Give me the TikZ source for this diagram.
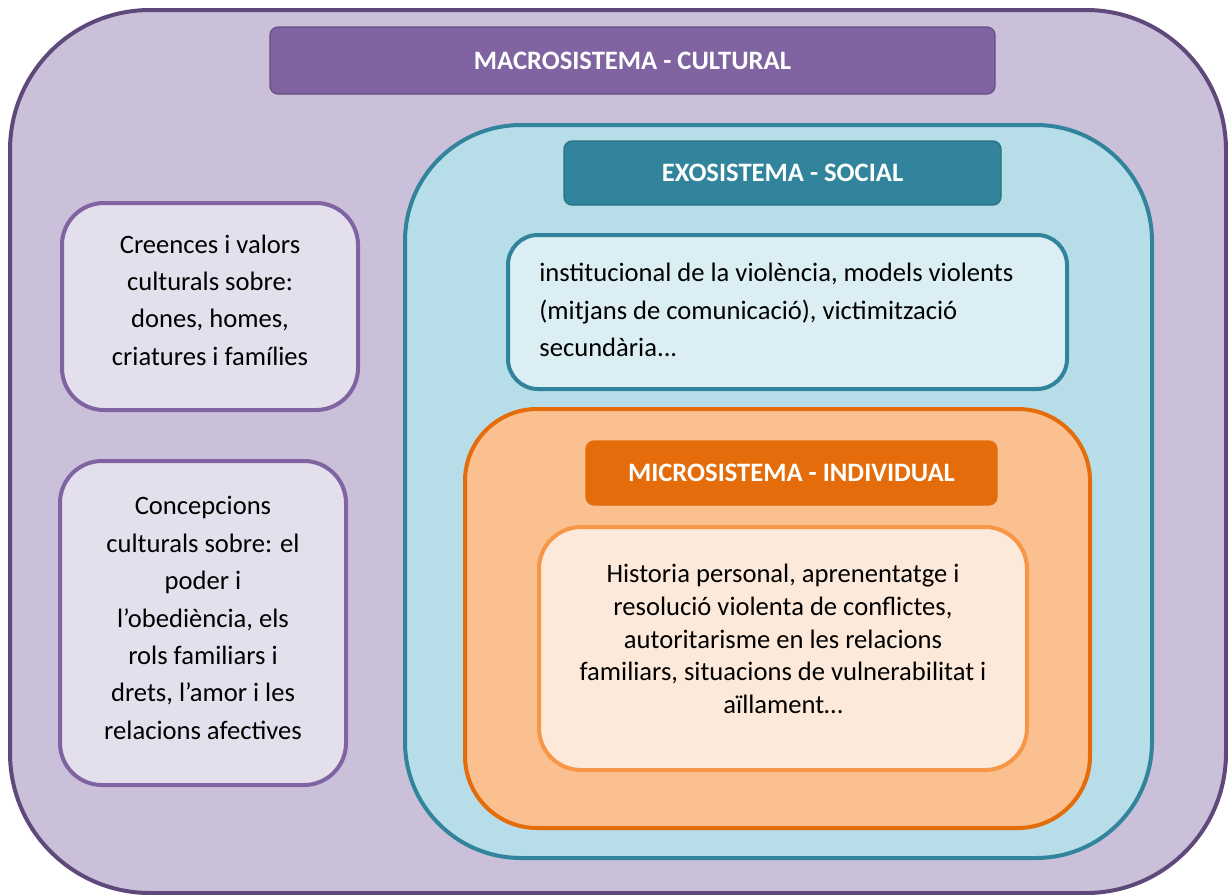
\documentclass[tikz,border=0pt]{standalone}
\usepackage{fontspec}
\setmainfont{Carlito}
\usetikzlibrary{positioning}
\definecolor{macrofill}{HTML}{CBC0DA}
\definecolor{macroline}{HTML}{5F497A}
\definecolor{macrohead}{HTML}{8064A2}
\definecolor{macronote}{HTML}{E4DFEC}
\definecolor{exofill}{HTML}{B7DDE8}
\definecolor{exoline}{HTML}{31849B}
\definecolor{exonote}{HTML}{DAEEF3}
\definecolor{microfill}{HTML}{FAC090}
\definecolor{microline}{HTML}{E46C0A}
\definecolor{micronote}{HTML}{FDE9D9}
\definecolor{micronoteline}{HTML}{F79646}
\tikzset{
    shell/.style = {rectangle, line width=2pt, inner sep=0pt},
    head/.style = {rectangle, rounded corners=4pt, text=white, line width=.6pt,
        font=\bfseries\fontsize{13.3}{15}\selectfont},
    notetext/.style = {align=center, inner sep=0pt,
        font=\fontsize{13.3}{18.7}\selectfont},
}
\begin{document}
\begin{tikzpicture}[x=.5pt, y=-.5pt]
\useasboundingbox (0,0) rectangle (1228,895);

\node[shell, rounded corners=70pt, draw=macroline, fill=macrofill,
    minimum width=608pt, minimum height=441.5pt] (macro) at (618,451.5) {};
\node[head, fill=macrohead, draw=macroline!80!macrohead,
    minimum width=362.5pt, minimum height=33.5pt] (macrohead) at (632.5,60.5) {MACROSISTEMA - CULTURAL};

\node[shell, rounded corners=21pt, draw=macrohead, fill=macronote,
    minimum width=148pt, minimum height=103.5pt] (beliefs) at (210,306.5) {};
\node[notetext] (beliefs-text) at (210,300)
    {Creences i valors\\culturals sobre:\\dones, homes,\\criatures i famílies};
\node[shell, rounded corners=21pt, draw=macrohead, fill=macronote,
    minimum width=143pt, minimum height=162pt] (conceptions) at (203,623) {};
\node[notetext] (conceptions-text) at (203,618)
    {Concepcions\\culturals sobre: el\\poder i\\l’obediència, els\\rols familiars i\\drets, l’amor i les\\relacions afectives};

\node[shell, rounded corners=58pt, draw=exoline, fill=exofill,
    minimum width=373.5pt, minimum height=366.5pt] (exo) at (778.5,491.5) {};
\node[head, fill=exoline, draw=exoline!85!black,
    minimum width=218.5pt, minimum height=32pt] (exohead) at (782.5,173) {EXOSISTEMA - SOCIAL};
\node[shell, rounded corners=15pt, draw=exoline, fill=exonote,
    minimum width=279.5pt, minimum height=77pt] (exonote) at (787.5,312) {};
\node[notetext, align=left, anchor=west] (exonote-text) at (539,310)
    {institucional de la violència, models violents\\(mitjans de comunicació), victimització\\secundària...};

\node[shell, rounded corners=36pt, draw=microline, fill=microfill,
    minimum width=312.5pt, minimum height=209.5pt] (micro) at (777.5,618.5) {};
\node[head, fill=microline, draw=microline,
    minimum width=205.5pt, minimum height=32pt] (microhead) at (791.5,473) {MICROSISTEMA - INDIVIDUAL};
\node[shell, rounded corners=21pt, draw=micronoteline, fill=micronote,
    minimum width=244pt, minimum height=121.5pt] (micronote) at (783,648.5) {};
\node[notetext, font=\fontsize{13.3}{16.3}\selectfont] (micronote-text) at (783,639)
    {Historia personal, aprenentatge i\\resolució violenta de conflictes,\\autoritarisme en les relacions\\familiars, situacions de vulnerabilitat i\\aïllament…};
\end{tikzpicture}
\end{document}
